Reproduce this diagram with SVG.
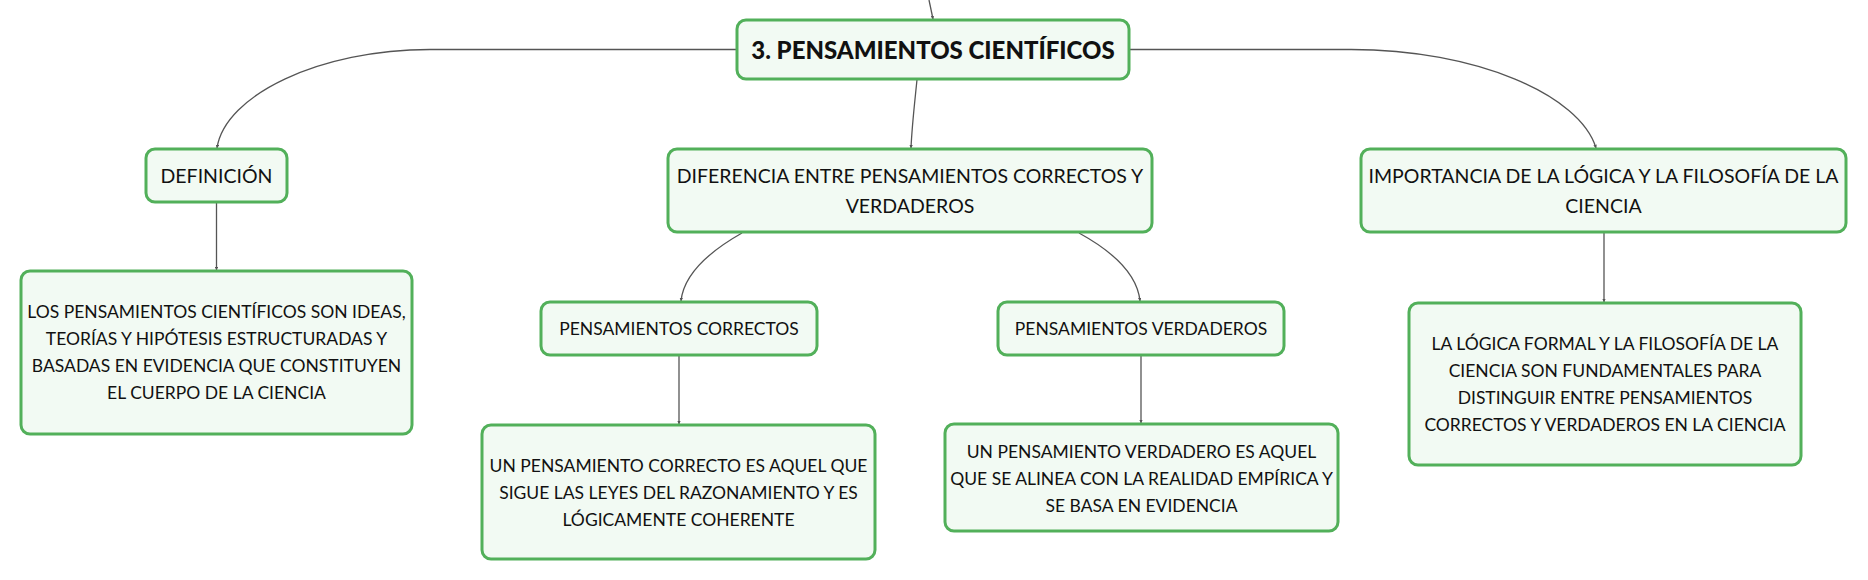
<svg xmlns="http://www.w3.org/2000/svg" width="1868" height="580" viewBox="0 0 1868 580">
<style>
.box{fill:#f2faf3;stroke:#52b05a;stroke-width:3}
.t{font-family:Lato,"Liberation Sans",sans-serif;fill:#111;text-anchor:middle;dominant-baseline:central}
.root{font-size:24px;font-weight:900}
.l1{font-size:19.5px}
.l2{font-size:17.5px}
.lf{font-size:17.5px}
.c{fill:none;stroke:#555;stroke-width:1.3}
</style>
<defs>
<marker id="ah" viewBox="0 0 6 6" refX="5.5" refY="3" markerWidth="3.5" markerHeight="3.5" markerUnits="userSpaceOnUse" orient="auto">
<path d="M0,0 L6,3 L0,6 z" fill="#555"/>
</marker>
</defs>
<g id="connectors">
<path class="c" d="M929 0 L933 19" marker-end="url(#ah)"/>
<path class="c" d="M737 49.5 L430 49.5 C320 49.5 225 95 217 148" marker-end="url(#ah)"/>
<path class="c" d="M1129 49.5 L1351 49.5 C1476 49.5 1580 95 1596 148" marker-end="url(#ah)"/>
<path class="c" d="M917 79.5 C915 100 912 125 911 148" marker-end="url(#ah)"/>
<path class="c" d="M742 233 C712 250 684 272 681 301" marker-end="url(#ah)"/>
<path class="c" d="M1079 233 C1110 250 1137 272 1140 301" marker-end="url(#ah)"/>
<path class="c" d="M216.5 202 L216.5 270" marker-end="url(#ah)"/>
<path class="c" d="M679 355 L679 424" marker-end="url(#ah)"/>
<path class="c" d="M1141 355 L1141 423" marker-end="url(#ah)"/>
<path class="c" d="M1604 232 L1604 302" marker-end="url(#ah)"/>
</g>
<g id="root">
<rect class="box" x="737" y="20" width="392" height="59" rx="9"/>
<text class="t root" x="933" y="49.5">3. PENSAMIENTOS CIENTÍFICOS</text>
</g>
<g id="definicion">
<rect class="box" x="146" y="149" width="141" height="53" rx="9"/>
<text class="t l1" x="216.5" y="175.5">DEFINICIÓN</text>
</g>
<g id="diferencia">
<rect class="box" x="668" y="149" width="484" height="83" rx="9"/>
<text class="t l1" x="910" y="175.5">DIFERENCIA ENTRE PENSAMIENTOS CORRECTOS Y</text>
<text class="t l1" x="910" y="205">VERDADEROS</text>
</g>
<g id="importancia">
<rect class="box" x="1361" y="149" width="485" height="83" rx="9"/>
<text class="t l1" x="1603.5" y="175.5">IMPORTANCIA DE LA LÓGICA Y LA FILOSOFÍA DE LA</text>
<text class="t l1" x="1603.5" y="205">CIENCIA</text>
</g>
<g id="correctos">
<rect class="box" x="541" y="302" width="276" height="53" rx="9"/>
<text class="t l2" x="679" y="328.5">PENSAMIENTOS CORRECTOS</text>
</g>
<g id="verdaderos">
<rect class="box" x="998" y="302" width="286" height="53" rx="9"/>
<text class="t l2" x="1141" y="328.5">PENSAMIENTOS VERDADEROS</text>
</g>
<g id="definicion-texto">
<rect class="box" x="21" y="271" width="391" height="163" rx="9"/>
<text class="t lf" x="216.5" y="311">LOS PENSAMIENTOS CIENTÍFICOS SON IDEAS,</text>
<text class="t lf" x="216.5" y="338">TEORÍAS Y HIPÓTESIS ESTRUCTURADAS Y</text>
<text class="t lf" x="216.5" y="365">BASADAS EN EVIDENCIA QUE CONSTITUYEN</text>
<text class="t lf" x="216.5" y="392">EL CUERPO DE LA CIENCIA</text>
</g>
<g id="correctos-texto">
<rect class="box" x="482" y="425" width="393" height="134" rx="9"/>
<text class="t lf" x="678.5" y="465">UN PENSAMIENTO CORRECTO ES AQUEL QUE</text>
<text class="t lf" x="678.5" y="492">SIGUE LAS LEYES DEL RAZONAMIENTO Y ES</text>
<text class="t lf" x="678.5" y="519">LÓGICAMENTE COHERENTE</text>
</g>
<g id="verdaderos-texto">
<rect class="box" x="945" y="424" width="393" height="107" rx="9"/>
<text class="t lf" x="1141.5" y="451">UN PENSAMIENTO VERDADERO ES AQUEL</text>
<text class="t lf" x="1141.5" y="478">QUE SE ALINEA CON LA REALIDAD EMPÍRICA Y</text>
<text class="t lf" x="1141.5" y="505">SE BASA EN EVIDENCIA</text>
</g>
<g id="importancia-texto">
<rect class="box" x="1409" y="303" width="392" height="162" rx="9"/>
<text class="t lf" x="1605" y="343">LA LÓGICA FORMAL Y LA FILOSOFÍA DE LA</text>
<text class="t lf" x="1605" y="370">CIENCIA SON FUNDAMENTALES PARA</text>
<text class="t lf" x="1605" y="397">DISTINGUIR ENTRE PENSAMIENTOS</text>
<text class="t lf" x="1605" y="424">CORRECTOS Y VERDADEROS EN LA CIENCIA</text>
</g>
</svg>
